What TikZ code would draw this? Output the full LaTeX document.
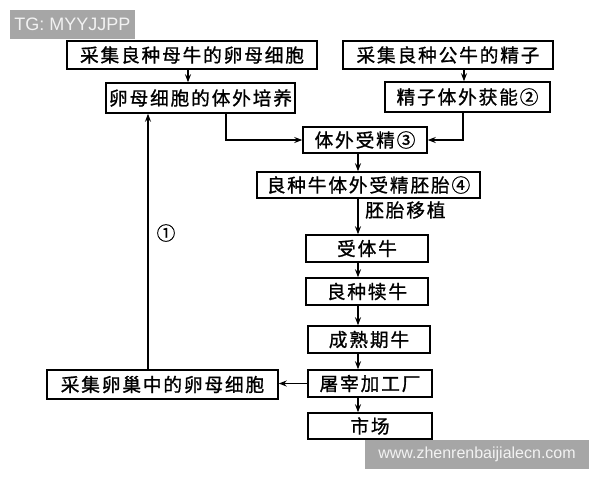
\documentclass[tikz,border=0pt]{standalone}
\usepackage{fontspec}
\setmainfont{Liberation Sans}
\newfontfamily\cjk[LetterSpace=10,FakeBold=1]{Noto Sans CJK SC}
\usepackage{tikz}
\usetikzlibrary{arrows.meta,shapes}
\usetikzlibrary{calc}
\tikzstyle{box}=[draw,line width=1.1pt,inner sep=0pt,font=\cjk\fontsize{14}{14}\selectfont]
\tikzstyle{edge} = [draw,line width=0.9pt,-{Stealth[length=6pt,width=4.5pt]}]
\tikzstyle{weight} = [font=\cjk\fontsize{14}{14}\selectfont,inner sep=0pt]
\tikzstyle{watermark}=[fill=black!35,text=white!95!black,inner sep=0pt,font=\fontsize{12}{12}\selectfont]

\begin{document}
\begin{tikzpicture}[x=0.75pt,y=-0.75pt]
   \useasboundingbox (0,0) rectangle (600,480);

    % the boxes: position / name / width / height / text
    \foreach \pos/ \name / \w / \h / \label in {{(192,55)/mucow/250/28/采集良种母牛的卵母细胞},
        {(448,55)/gongcow/210/28/采集良种公牛的精子},
        {(200.5,98)/peiyang/189/30/卵母细胞的体外培养},
        {(467.5,97)/huoneng/165/30/精子体外获能②},
        {(365,140)/shoujing/124/26/体外受精③},
        {(368.5,185)/peitai/223/26/良种牛体外受精胚胎④},
        {(367,248.5)/shouti/122/27/受体牛},
        {(367,291.5)/duniu/122/27/良种犊牛},
        {(369,339.5)/chengshu/122/27/成熟期牛},
        {(370,383.5)/tuzai/124/27/屠宰加工厂},
        {(370,426)/shichang/124/26/市场},
        {(162.5,384.5)/luanchao/231/29/采集卵巢中的卵母细胞}}
        \node[box,minimum width=0.75pt*\w,minimum height=0.75pt*\h] (\name) at \pos {\label};

    \coordinate (eggx) at (188,0);
    \coordinate (spermx) at (464,0);
    \coordinate (cultx) at (226,0);
    \coordinate (capx) at (463,0);
    \coordinate (spine) at (358,0);
    \coordinate (backx) at (148,0);

    % Connect boxes with edges
    \draw[edge] (mucow.south -| eggx) -- (peiyang.north -| eggx);
    \draw[edge] (gongcow.south -| spermx) -- (huoneng.north -| spermx);
    \draw[edge] (peiyang.south -| cultx) |- (shoujing.west);
    \draw[edge] (huoneng.south -| capx) |- (shoujing.east);
    \foreach \source/ \dest in {shoujing/peitai,peitai/shouti,shouti/duniu,duniu/chengshu,chengshu/tuzai,tuzai/shichang}
        \draw[edge] (\source.south -| spine) -- (\dest.north -| spine);
    \draw[edge] (tuzai.west) -- (luanchao.east |- tuzai.west);
    \draw[edge] (luanchao.north -| backx) -- (peiyang.south -| backx);

    \node[weight, anchor=west] (yizhi) at (365,210) {胚胎移植};
    \node[weight] (one) at (166,233) {①};

    \node[watermark, minimum width=0.75pt*125, minimum height=0.75pt*29, font=\fontsize{13.5}{13.5}\selectfont] (tg) at (72.5,24.5) {TG: MYYJJPP};
    \node[watermark, minimum width=0.75pt*224, minimum height=0.75pt*29] (site) at (477,454.5) {www.zhenrenbaijialecn.com};
       \end{tikzpicture}
\end{document}
